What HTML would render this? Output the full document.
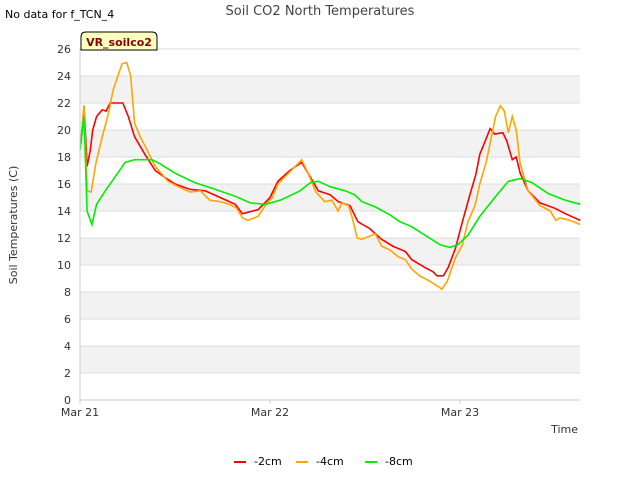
<!DOCTYPE html>
<html><head><meta charset="utf-8"><style>
body{margin:0;background:#fff;font-family:"Liberation Sans","DejaVu Sans",sans-serif;}
</style></head><body>
<svg id="c" width="640" height="480" xmlns="http://www.w3.org/2000/svg" style="font-family:'DejaVu Sans','Liberation Sans',sans-serif">
<rect width="640" height="480" fill="#fff"/>
<text x="5" y="18" font-size="11" fill="#000">No data for f_TCN_4</text>
<text x="320" y="15" font-size="13" fill="#444" text-anchor="middle">Soil CO2 North Temperatures</text>
<g id="bands"></g><g id="grid"></g>
<g id="lines"></g>
<line x1="80" y1="49" x2="80" y2="400" stroke="#ccc"/>
<line x1="80" y1="400" x2="580" y2="400" stroke="#ccc"/>
<g id="yt" font-size="11" fill="#333"></g><g id="xt" font-size="11" fill="#333"></g>
<text transform="translate(17,225) rotate(-90)" font-size="11" fill="#333" text-anchor="middle">Soil Temperatures (C)</text>
<text x="578" y="433" font-size="11" fill="#333" text-anchor="end">Time</text>
<g>
<path d="M81,50 V37 Q81,32 86,32 H152 Q157,32 157,37 V50 Z" fill="#ffffc0" stroke="#000"/>
<text x="119" y="46" font-size="11" font-weight="bold" fill="#8b0000" text-anchor="middle">VR_soilco2</text>
</g>
<g id="legend" font-size="11" fill="#000"></g>
</svg>
<script>
const redT=[0.1,0.5,0.9,1.3,1.6,2.1,2.8,3.3,3.8,5.4,6.1,6.9,8.2,9.5,10.7,12.0,13.9,15.8,17.7,19.6,20.5,22.5,24.0,25.0,26.5,28.0,29.1,30.1,31.6,32.6,34.1,35.1,36.6,38.1,39.5,41.1,41.9,43.6,44.6,45.1,45.9,46.5,47.4,48.3,49.3,50.0,50.5,51.4,51.8,52.4,53.4,53.9,54.6,55.1,55.6,56.6,58.1,60.0,61.3,63.2];
const redV=[19,21.8,17.3,18.5,20,21,21.5,21.4,22,22,21,19.5,18.2,17,16.5,16,15.6,15.5,15,14.5,13.8,14.1,15,16.2,17,17.6,16.5,15.5,15.2,14.7,14.4,13.2,12.7,11.9,11.4,11.0,10.4,9.8,9.5,9.2,9.2,9.8,11.2,13.2,15.3,16.7,18.2,19.5,20.1,19.7,19.8,19.2,17.8,18,16.8,15.5,14.6,14.2,13.8,13.3];
const orangeT=[0.1,0.5,0.9,1.4,2.0,2.8,3.5,4.2,5.3,5.9,6.4,6.9,7.6,8.5,9.5,11.1,12.4,13.9,15.2,16.4,17.7,18.9,19.8,20.5,21.2,22.5,23.5,24.3,25.0,26.5,28.0,28.8,29.8,30.9,31.8,32.6,33.1,33.9,34.4,35.0,35.6,36.4,37.3,38.1,39.2,40.2,41.1,41.9,42.9,44.2,45.5,45.7,46.4,47.4,48.3,49.0,49.9,50.5,51.3,51.8,52.5,53.1,53.6,54.1,54.6,55.1,55.6,56.6,58.1,59.4,60.1,60.6,61.9,63.2];
const orangeV=[19,21.8,15.5,15.4,17.5,19.5,21,23,24.9,25,24,20.5,19.5,18.5,17.3,16.2,15.8,15.4,15.5,14.8,14.7,14.5,14.2,13.5,13.3,13.6,14.5,15.0,16.0,16.9,17.8,16.8,15.4,14.7,14.8,14.0,14.6,14.4,13.5,12.0,11.9,12.1,12.3,11.4,11.1,10.6,10.4,9.7,9.2,8.8,8.3,8.2,8.8,10.5,11.5,13.2,14.4,16,17.6,19,21,21.8,21.4,19.8,21,20,17.5,15.5,14.4,14.0,13.3,13.5,13.3,13.0];
const greenT=[0,0.5,0.9,1.5,2.1,3.2,4.4,5.7,6.9,9.1,10.1,12.0,14.5,17.1,19.6,21.5,23.4,25.3,27.8,29.1,30.1,31.6,33.5,34.7,35.6,37.3,39.2,40.4,41.7,43.6,45.5,46.7,47.7,49.0,50.5,52.4,54.1,55.6,57.1,59.1,61.3,63.2];
const greenV=[18.5,21,14,13,14.5,15.5,16.5,17.6,17.8,17.8,17.5,16.8,16.1,15.6,15.1,14.6,14.5,14.8,15.5,16.1,16.2,15.8,15.5,15.2,14.7,14.3,13.7,13.2,12.9,12.2,11.5,11.3,11.5,12.2,13.6,15,16.2,16.4,16.1,15.3,14.8,14.5];
const yTicks=[0,2,4,6,8,10,12,14,16,18,20,22,24,26];
const xTickHours=[0,24,48];
const xTickLabels=["Mar 21","Mar 22","Mar 23"];
const seriesNames=["-2cm","-4cm","-8cm"];
const seriesColors=["#ff0000","#ffa500","#00ee00"];
const NS="http://www.w3.org/2000/svg";
const X=h=>80+h*190/24, Y=v=>400-v*13.5;
function mk(t,a,p){const e=document.createElementNS(NS,t);for(const k in a)e.setAttribute(k,a[k]);p.appendChild(e);return e;}
const bands=document.getElementById('bands'),grid=document.getElementById('grid'),yt=document.getElementById('yt'),xt=document.getElementById('xt');
for(let i=0;i<yTicks.length-1;i++){if(i%2===1){const b=mk('rect',{x:80,y:Y(yTicks[i+1]),width:500,height:Y(yTicks[i])-Y(yTicks[i+1]),fill:'#f2f2f2'},bands);

}}
yTicks.forEach(v=>{const l=mk('line',{x1:80,x2:580,y1:Y(v),y2:Y(v),stroke:'#dddddd'},grid);


const t=mk('text',{x:71,y:Y(v)+4,'text-anchor':'end'},yt);t.textContent=v;

});
xTickHours.forEach((h,i)=>{mk('line',{x1:X(h),x2:X(h),y1:400,y2:404,stroke:'#ccc'},xt);
const t=mk('text',{x:X(h),y:416,'text-anchor':'middle'},xt);t.textContent=xTickLabels[i];

});
const lines=document.getElementById('lines');
[[redT,redV],[orangeT,orangeV],[greenT,greenV]].forEach((s,i)=>{
const d=s[0].map((h,j)=>(j?'L':'M')+X(h).toFixed(1)+','+Y(s[1][j]).toFixed(1)).join('');
const p=mk('path',{d:d,fill:'none',stroke:seriesColors[i],'stroke-width':1.6},lines);

});
const lg=document.getElementById('legend');const lx=[234,296,365];
seriesNames.forEach((n,i)=>{const g=mk('g',{},lg);


mk('line',{x1:lx[i],x2:lx[i]+12,y1:462,y2:462,stroke:seriesColors[i],'stroke-width':2},g);
const t=mk('text',{x:lx[i]+20,y:465},g);t.textContent=n;});
</script>
</body></html>
